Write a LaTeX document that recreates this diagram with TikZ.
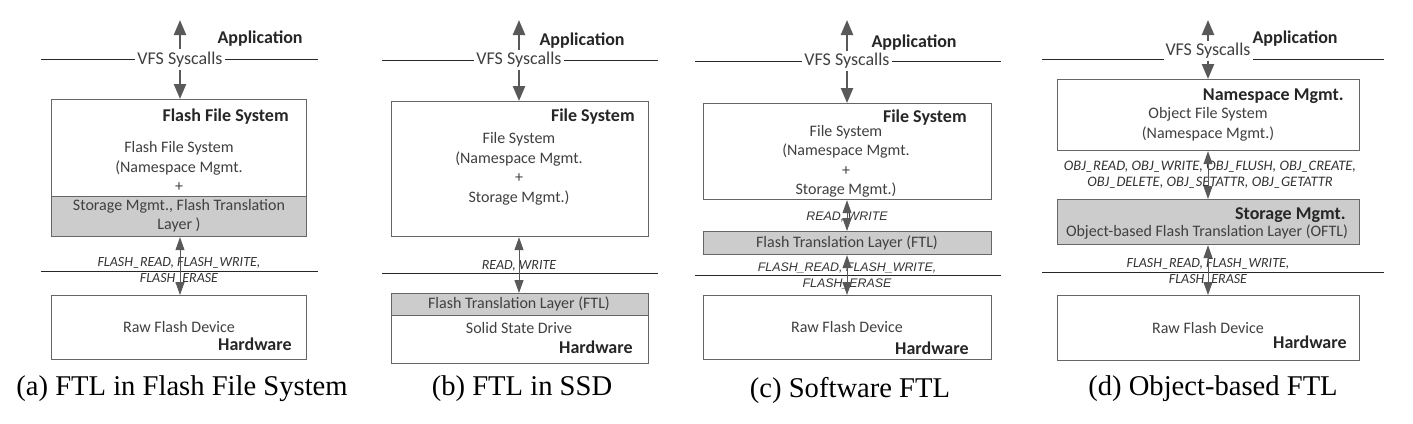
\documentclass[tikz,border=0pt]{standalone}
\usepackage{fontspec}
\setmainfont{Carlito}
\newfontfamily\capfont{Liberation Serif}
\newfontfamily\arialfont{Liberation Sans}
\usetikzlibrary{arrows.meta}

\begin{document}
\begin{tikzpicture}[x=0.5pt, y=-0.5pt,
    box/.style = {draw=black!60, line width=0.6pt, anchor=north west, inner sep=0pt, fill=white},
    greybox/.style = {box, fill=black!20},
    txt/.style = {font=\fontsize{8}{9.75}\selectfont, text=black!75, align=center, inner sep=0pt},
    head/.style = {font=\fontsize{9}{11}\selectfont\bfseries, text=black!85, anchor=east, inner sep=0pt},
    call/.style = {font=\fontsize{7}{8}\selectfont\itshape, text=black!80, align=center, inner sep=0pt},
    acall/.style = {call, font=\arialfont\fontsize{6.2}{8}\selectfont\itshape},
    vfs/.style = {txt, font=\fontsize{9}{11}\selectfont, fill=white, inner sep=1pt},
    captext/.style = {font=\capfont\fontsize{14.3}{16}\selectfont, text=black, inner sep=0pt},
    layer/.style = {draw=black!85, line width=0.5pt},
    bigarr/.style = {draw=black!65, line width=1.2pt, -{Triangle[length=7.5pt, width=6pt]}},
    dblarr/.style = {draw=black!65, line width=0.5pt, {Triangle[length=6.5pt, width=4.5pt]}-{Triangle[length=6.5pt, width=4.5pt]}}]
    \useasboundingbox (0,0) rectangle (1413,423);

    % (a) FTL in Flash File System
    \coordinate (topA) at (180,20);
    \coordinate (lA1) at (41,59.5);
    \coordinate (lA2) at (318,59.5);
    \coordinate (mA1) at (41,271);
    \coordinate (mA2) at (318,271);
    \draw[layer] (lA1) -- (lA2);
    \draw[layer] (mA1) -- (mA2);
    \node[vfs] (vfsA) at (180,59.5) {VFS Syscalls};
    \node[head] (appA) at (303,39) {Application};
    \node[box, minimum width=127.5pt, minimum height=48.5pt] (ffsA) at (51,99) {};
    \node[greybox, minimum width=127.5pt, minimum height=20pt] (ftlA) at (51,196) {};
    \node[box, minimum width=127.5pt, minimum height=32pt] (hwA) at (51,295) {};
    \node[head] (ffshA) at (289,117) {Flash File System};
    \node[txt] (ffstA) at (179,166.5) {Flash File System\\(Namespace Mgmt.\\+};
    \node[txt] (ftltA) at (179,215.5) {Storage Mgmt., Flash Translation\\Layer )};
    \node[call] (opsA) at (179,271) {FLASH\_READ, FLASH\_WRITE,\\FLASH\_ERASE};
    \node[txt] (rawA) at (179,327) {Raw Flash Device};
    \node[head] (hwhA) at (292,344) {Hardware};
    \node[captext] (capA) at (182,389) {(a) FTL in Flash File System};
    \draw[bigarr] (vfsA) -- (topA);
    \draw[bigarr] (vfsA) -- (vfsA |- ffsA.north);
    \draw[dblarr] (ftlA.south -| topA) -- (hwA.north -| topA);

    % (b) FTL in SSD
    \coordinate (topB) at (519,20);
    \coordinate (lB1) at (382,60);
    \coordinate (lB2) at (658,60);
    \coordinate (mB1) at (382,273);
    \coordinate (mB2) at (658,273);
    \draw[layer] (lB1) -- (lB2);
    \draw[layer] (mB1) -- (mB2);
    \node[vfs] (vfsB) at (519,60) {VFS Syscalls};
    \node[head] (appB) at (625,41) {Application};
    \node[box, minimum width=128.5pt, minimum height=67.5pt] (fsB) at (391,101) {};
    \node[box, minimum width=128.5pt, minimum height=35pt] (ssdB) at (391,293) {};
    \node[greybox, minimum width=128.5pt, minimum height=11pt] (ftlB) at (391,293) {};
    \node[head] (fshB) at (635,117) {File System};
    \node[txt] (fstB) at (519,169) {File System\\(Namespace Mgmt.\\+\\Storage Mgmt.)};
    \node[call] (opsB) at (519,266) {READ, WRITE};
    \node[txt] (ftltB) at (519,304) {Flash Translation Layer (FTL)};
    \node[txt] (ssdtB) at (519,328) {Solid State Drive};
    \node[head] (hwhB) at (633,347) {Hardware};
    \node[captext] (capB) at (522,389) {(b) FTL in SSD};
    \draw[bigarr] (vfsB) -- (topB);
    \draw[bigarr] (vfsB) -- (vfsB |- fsB.north);
    \draw[dblarr] (fsB.south -| topB) -- (ftlB.north -| topB);

    % (c) Software FTL
    \coordinate (topC) at (847,20);
    \coordinate (lC1) at (695,61);
    \coordinate (lC2) at (1001,61);
    \coordinate (mC1) at (695,275);
    \coordinate (mC2) at (1001,275);
    \draw[layer] (lC1) -- (lC2);
    \draw[layer] (mC1) -- (mC2);
    \node[vfs] (vfsC) at (847,61) {VFS Syscalls};
    \node[head] (appC) at (957,43) {Application};
    \node[box, minimum width=144pt, minimum height=48pt] (fsC) at (703,103) {};
    \node[greybox, minimum width=144pt, minimum height=11.5pt] (ftlC) at (703,231) {};
    \node[box, minimum width=144pt, minimum height=32pt] (hwC) at (703,295) {};
    \node[head] (fshC) at (967,118) {File System};
    \node[txt] (fstC) at (846,161.5) {File System\\(Namespace Mgmt.\\+\\Storage Mgmt.)};
    \node[acall] (rwC) at (847,217) {READ, WRITE};
    \node[txt] (ftltC) at (847,243) {Flash Translation Layer (FTL)};
    \node[acall] (opsC) at (847,276) {FLASH\_READ, FLASH\_WRITE,\\FLASH\_ERASE};
    \node[txt] (rawC) at (847,327) {Raw Flash Device};
    \node[head] (hwhC) at (969,348) {Hardware};
    \node[captext] (capC) at (850,390) {(c) Software FTL};
    \draw[bigarr] (vfsC) -- (topC);
    \draw[bigarr] (vfsC) -- (vfsC |- fsC.north);
    \draw[dblarr] (fsC.south -| topC) -- (ftlC.north -| topC);
    \draw[dblarr] (ftlC.south -| topC) -- (hwC.north -| topC);

    % (d) Object-based FTL
    \coordinate (topD) at (1208,20);
    \coordinate (lD1) at (1042,59);
    \coordinate (lD2) at (1384,59);
    \coordinate (mD1) at (1042,272);
    \coordinate (mD2) at (1384,272);
    \draw[layer] (lD1) -- (lD2);
    \draw[layer] (mD1) -- (mD2);
    \node[vfs] (vfsD) at (1208,51) {VFS Syscalls};
    \node[head] (appD) at (1338,39) {Application};
    \node[box, minimum width=151pt, minimum height=35.5pt] (nsD) at (1057,79) {};
    \node[greybox, minimum width=151pt, minimum height=22.5pt] (smD) at (1057,199) {};
    \node[box, minimum width=151pt, minimum height=32.5pt] (hwD) at (1057,295) {};
    \node[head] (nshD) at (1344,96) {Namespace Mgmt.};
    \node[txt] (nstD) at (1208,124.5) {Object File System\\(Namespace Mgmt.)};
    \node[call, font=\fontsize{7.25}{8}\selectfont\itshape] (objD) at (1210,175) {OBJ\_READ, OBJ\_WRITE, OBJ\_FLUSH, OBJ\_CREATE,\\OBJ\_DELETE, OBJ\_SETATTR, OBJ\_GETATTR};
    \node[head] (smhD) at (1346,215) {Storage Mgmt.};
    \node[txt] (smtD) at (1207,232) {Object-based Flash Translation Layer (OFTL)};
    \node[call] (opsD) at (1208,271.5) {FLASH\_READ, FLASH\_WRITE,\\FLASH\_ERASE};
    \node[txt] (rawD) at (1208,328) {Raw Flash Device};
    \node[head] (hwhD) at (1347,342) {Hardware};
    \node[captext] (capD) at (1213,389) {(d) Object-based FTL};
    \draw[bigarr] (vfsD) -- (topD);
    \draw[bigarr] (vfsD) -- (vfsD |- nsD.north);
    \draw[dblarr] (nsD.south -| topD) -- (smD.north -| topD);
    \draw[dblarr] (smD.south -| topD) -- (hwD.north -| topD);
\end{tikzpicture}
\end{document}
